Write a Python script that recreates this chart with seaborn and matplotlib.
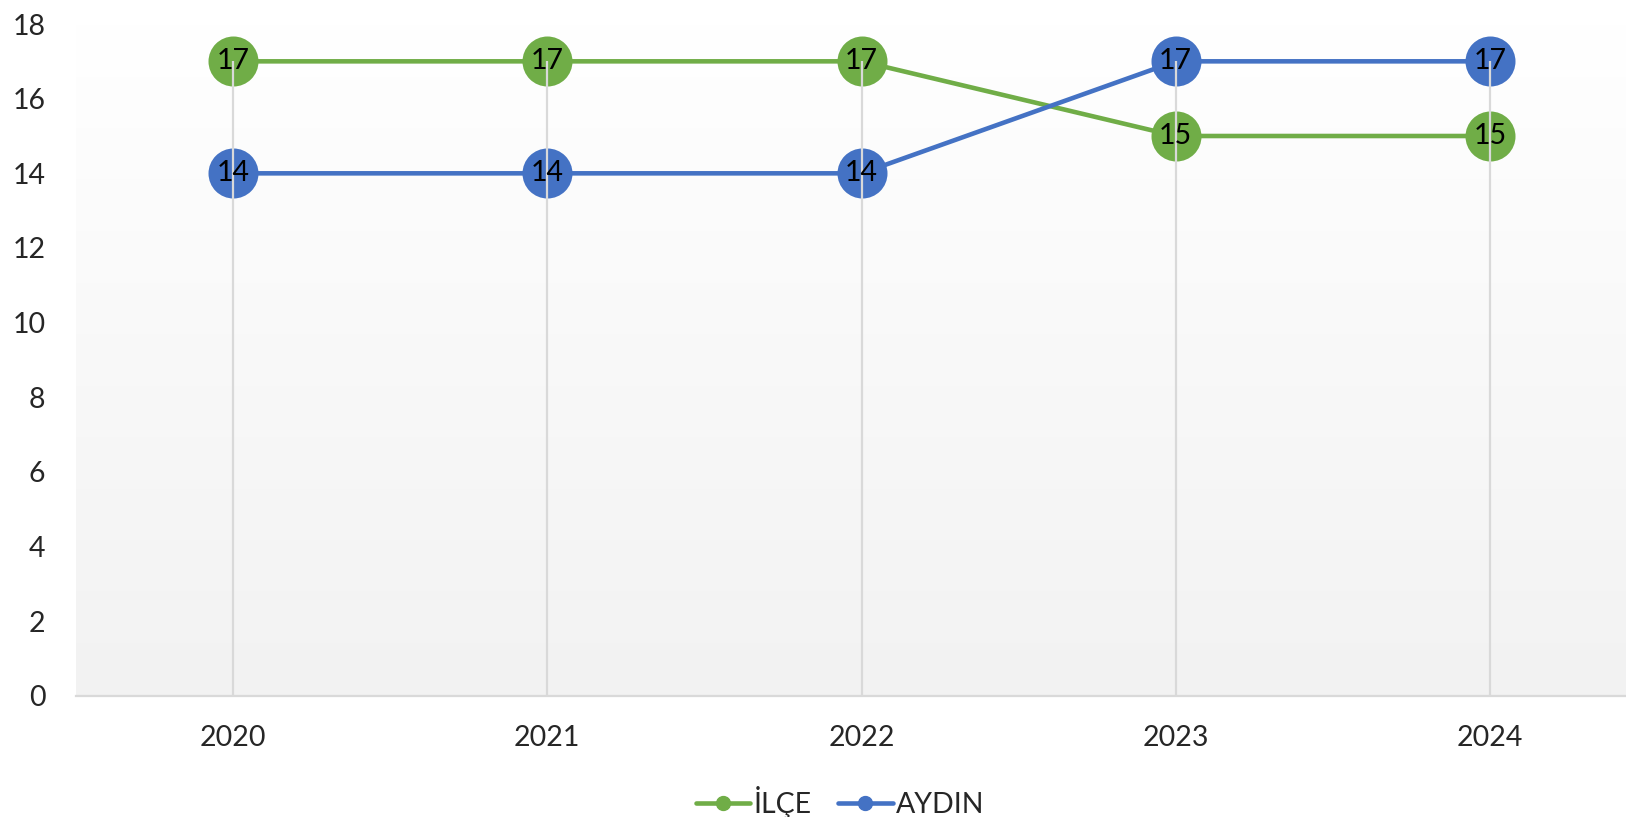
import numpy as np
import pandas as pd
import matplotlib.pyplot as plt
import seaborn as sns

# ====== Dữ liệu ======
years = [2020, 2021, 2022, 2023, 2024]
ilce = [17, 17, 17, 15, 15]
aydin = [14, 14, 14, 17, 17]
series_names = ["İLÇE", "AYDIN"]
colors = {"İLÇE": "#70AD47", "AYDIN": "#4472C4"}

df = pd.DataFrame({
    "year": years * 2,
    "value": ilce + aydin,
    "series": [series_names[0]] * len(years) + [series_names[1]] * len(years),
})

sns.set_theme(style="white")
plt.rcParams["font.family"] = ["Lato", "DejaVu Sans"]

fig = plt.figure(figsize=(16.26, 8.17), dpi=100)
ax = fig.add_axes([76 / 1626, 121 / 817, 1571 / 1626, 672 / 817])

# nền gradient: trắng ở trên, xám nhạt ở dưới
grad = np.linspace(1.0, 0.949, 256).reshape(-1, 1)
ax.imshow(np.dstack([grad, grad, grad]), extent=[2019.5, 2024.5, 0, 18],
          aspect="auto", origin="upper", zorder=0)

sns.lineplot(data=df, x="year", y="value", hue="series", palette=colors,
             marker="o", markersize=36, markeredgewidth=0, linewidth=3.3,
             ax=ax, zorder=3, legend=False)

# đường thả (drop lines) từ điểm cao nhất xuống trục
tops = [max(a, b) for a, b in zip(ilce, aydin)]
ax.vlines(years, 0, tops, color="#d9d9d9", linewidth=1.6, zorder=4)

for name, vals in zip(series_names, [ilce, aydin]):
    for x, v in zip(years, vals):
        ax.text(x, v, str(v), ha="center", va="center", fontsize=20.5,
                color="black", zorder=5)

ax.set_xlim(2019.5, 2024.5)
ax.set_ylim(0, 18)
ax.set_xticks(years)
ax.set_yticks(range(0, 19, 2))
ax.tick_params(axis="x", length=0, pad=21, labelsize=20.5)
ax.tick_params(axis="y", length=0, pad=22, labelsize=20.5)
ax.set_xlabel("")
ax.set_ylabel("")
for side in ["top", "right", "left"]:
    ax.spines[side].set_visible(False)
ax.spines["bottom"].set_color("#d9d9d9")
ax.spines["bottom"].set_linewidth(1.6)
ax.spines["bottom"].set_zorder(2)

handles = [plt.Line2D([], [], color=colors[n], linewidth=3.3, marker="o",
                      markersize=10) for n in series_names]
fig.legend(handles, series_names, loc="center", bbox_to_anchor=(840 / 1626, 1 - 802 / 817),
           ncol=2, frameon=False, fontsize=20.5, handlelength=1.93,
           handletextpad=0.12, columnspacing=0.9)

fig.savefig("out.png", dpi=100)
plt.close(fig)
